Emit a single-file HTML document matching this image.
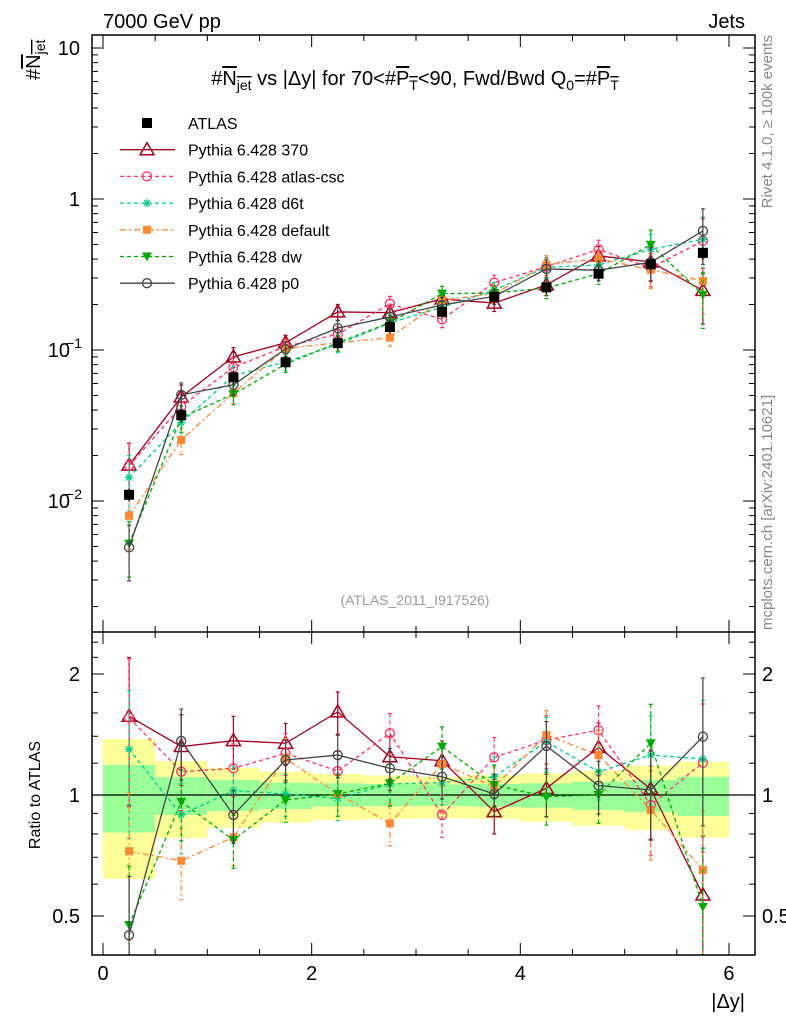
<!DOCTYPE html>
<html><head><meta charset="utf-8"><style>
body{margin:0;background:#fff}
svg{font-family:"Liberation Sans",sans-serif}
</style></head><body>
<svg id="c" width="786" height="1024" xmlns="http://www.w3.org/2000/svg"></svg>
<script>
const xCenters=[0.25,0.75,1.25,1.75,2.25,2.75,3.25,3.75,4.25,4.75,5.25,5.75];
const atlasVals=[0.011,0.037,0.066,0.083,0.111,0.142,0.179,0.225,0.26,0.32,0.37,0.44];
const yelUp=[1.378,1.215,1.169,1.143,1.128,1.119,1.11,1.121,1.132,1.149,1.183,1.21];
const yelLo=[0.618,0.782,0.829,0.853,0.866,0.872,0.875,0.872,0.858,0.839,0.818,0.783];
const grnUp=[1.188,1.108,1.09,1.073,1.069,1.065,1.063,1.065,1.069,1.079,1.09,1.11];
const grnLo=[0.807,0.892,0.912,0.923,0.935,0.939,0.94,0.935,0.93,0.918,0.907,0.887];
const errFrac=[0.4,0.2,0.15,0.12,0.12,0.12,0.12,0.12,0.15,0.15,0.25,0.4];
const r370=[1.57,1.32,1.365,1.345,1.61,1.245,1.217,0.909,1.039,1.314,1.035,0.564];
const rCsc=[1.557,1.143,1.165,1.27,1.147,1.424,0.892,1.241,1.37,1.45,0.944,1.203];
const rD6t=[1.3,0.892,1.025,1.006,0.981,1.065,1.073,1.11,1.357,1.143,1.257,1.229];
const rDef=[0.725,0.686,0.785,1.234,1.006,0.85,1.194,1.049,1.41,1.257,0.918,0.651];
const rDw=[0.475,0.962,0.773,0.972,1.006,1.069,1.319,1.059,0.99,1.0,1.345,0.527];
const rP0=[0.448,1.363,0.892,1.222,1.257,1.165,1.11,1.006,1.324,1.055,1.029,1.397];
const legendLabels=["ATLAS","Pythia 6.428 370","Pythia 6.428 atlas-csc","Pythia 6.428 d6t","Pythia 6.428 default","Pythia 6.428 dw","Pythia 6.428 p0"];

const svg=document.getElementById('c');
const NS="http://www.w3.org/2000/svg";
function mk(t,a,p){const e=document.createElementNS(NS,t);for(const k in a)e.setAttribute(k,a[k]);(p||svg).appendChild(e);return e;}
const L=92,R=755,T=35,M=632,B=955;
const X=v=>103+v*104.33;
const Y=v=>199-Math.log10(v)*151;
const YR=v=>795-Math.log2(v)*121;
const binW=0.5;

for(let i=0;i<xCenters.length;i++){
  const x0=X(xCenters[i]-binW/2),x1=X(xCenters[i]+binW/2);
  let r=mk('rect',{x:x0,y:YR(yelUp[i]),width:x1-x0,height:YR(yelLo[i])-YR(yelUp[i]),fill:'#ffff99'});
  
  
  r=mk('rect',{x:x0,y:YR(grnUp[i]),width:x1-x0,height:YR(grnLo[i])-YR(grnUp[i]),fill:'#99ff99'});
  
  
}
mk('line',{x1:L,x2:R,y1:YR(1),y2:YR(1),stroke:'#000','stroke-width':1.3});

const models=[
 {name:'pythia-370',r:r370,c:'#a00020',dash:'',m:'tri'},
 {name:'pythia-atlas-csc',r:rCsc,c:'#ff3366',dash:'4,3',m:'ocirc'},
 {name:'pythia-d6t',r:rD6t,c:'#00cc88',dash:'4,3',m:'star'},
 {name:'pythia-default',r:rDef,c:'#ff8833',dash:'6,3,2,3',m:'sq'},
 {name:'pythia-dw',r:rDw,c:'#00aa00',dash:'4,3',m:'tridown'},
 {name:'pythia-p0',r:rP0,c:'#444444',dash:'',m:'ocirc'}
];
function marker(type,x,y,c,g){
  if(type==='tri')return mk('path',{d:`M${x},${y-7}L${x+7},${y+5}L${x-7},${y+5}Z`,fill:'#fff','fill-opacity':0,stroke:c,'stroke-width':1.5},g);
  if(type==='ocirc')return mk('circle',{cx:x,cy:y,r:4.5,fill:'none',stroke:c,'stroke-width':1.3},g);
  if(type==='sq')return mk('rect',{x:x-4,y:y-4,width:8,height:8,fill:c},g);
  if(type==='bsq')return mk('rect',{x:x-5,y:y-5,width:10,height:10,fill:c},g);
  if(type==='tridown')return mk('path',{d:`M${x-5},${y-4}L${x+5},${y-4}L${x},${y+5}Z`,fill:c},g);
  if(type==='star')return mk('path',{d:`M${x-4},${y}H${x+4}M${x},${y-4}V${y+4}M${x-3},${y-3}L${x+3},${y+3}M${x-3},${y+3}L${x+3},${y-3}`,stroke:c,'stroke-width':1.3},g);
}
const clipM=mk('clipPath',{id:'cm'});mk('rect',{x:L,y:T,width:R-L,height:M-T},clipM);
const clipR=mk('clipPath',{id:'cr'});mk('rect',{x:L,y:M,width:R-L,height:B-M},clipR);

models.forEach(md=>{
  const gm=mk('g',{'clip-path':'url(#cm)'});
  
  
  const gr=mk('g',{'clip-path':'url(#cr)'});
  
  
  const vals=md.r.map((r,i)=>r*atlasVals[i]);
  mk('polyline',{points:xCenters.map((x,i)=>X(x)+','+Y(vals[i])).join(' '),fill:'none',stroke:md.c,'stroke-width':1.3,'stroke-dasharray':md.dash},gm);
  mk('polyline',{points:xCenters.map((x,i)=>X(x)+','+YR(md.r[i])).join(' '),fill:'none',stroke:md.c,'stroke-width':1.3,'stroke-dasharray':md.dash},gr);
  xCenters.forEach((x,i)=>{
    const e=errFrac[i],px=X(x);
    [[gm,Y,vals[i]],[gr,YR,md.r[i]]].forEach(([g,f,v])=>{
      const y1=f(v*(1+e)),y2=f(Math.max(v*(1-e),1e-4));
      mk('line',{x1:px,x2:px,y1:y1,y2:y2,stroke:md.c,'stroke-width':1.2,'stroke-dasharray':md.dash},g);
      mk('line',{x1:px-2,x2:px+2,y1:y1,y2:y1,stroke:md.c,'stroke-width':1.2},g);
      mk('line',{x1:px-2,x2:px+2,y1:y2,y2:y2,stroke:md.c,'stroke-width':1.2},g);
      marker(md.m,px,f(v),md.c,g);
    });
  });
});
const ga=mk('g',{'clip-path':'url(#cm)'});


xCenters.forEach((x,i)=>{
  const px=X(x),v=atlasVals[i];
  mk('line',{x1:px,x2:px,y1:Y(v*1.1),y2:Y(v*0.9),stroke:'#000','stroke-width':1.2},ga);
  marker('bsq',px,Y(v),'#000',ga);
});

mk('rect',{x:L,y:T,width:R-L,height:B-T,fill:'none',stroke:'#000','stroke-width':1.5});
mk('line',{x1:L,x2:R,y1:M,y2:M,stroke:'#000','stroke-width':1.5});

function txt(s,a,name){const t=mk('text',a);t.textContent=s;return t;}
for(let v=0;v<=6.001;v+=0.5){
  const maj=Math.abs(v-Math.round(v/2)*2)<1e-6;
  const len=maj?12:6;
  [M,B].forEach(yb=>mk('line',{x1:X(v),x2:X(v),y1:yb,y2:yb-len,stroke:'#000','stroke-width':1}));
  mk('line',{x1:X(v),x2:X(v),y1:T,y2:T+len,stroke:'#000','stroke-width':1});
  mk('line',{x1:X(v),x2:X(v),y1:M,y2:M+len,stroke:'#000','stroke-width':1});
  if(maj)txt(String(v),{x:X(v),y:980,'text-anchor':'middle','font-size':20},'x-tick-label');
}
for(let d=-3;d<=1;d++){
  for(let k=1;k<10;k++){
    const v=k*Math.pow(10,d);const y=Y(v);
    if(y<T||y>M)continue;
    const len=k===1?12:6;
    mk('line',{x1:L,x2:L+len,y1:y,y2:y,stroke:'#000'});
    mk('line',{x1:R,x2:R-len,y1:y,y2:y,stroke:'#000'});
  }
}
txt('10',{x:80,y:Y(10)+7,'text-anchor':'end','font-size':20},'y-tick-label');
txt('1',{x:80,y:Y(1)+7,'text-anchor':'end','font-size':20},'y-tick-label');
txt('10',{x:70,y:Y(0.1)+7,'text-anchor':'end','font-size':20},'y-tick-label');
txt('−1',{x:82,y:Y(0.1)-2,'text-anchor':'end','font-size':14},'y-tick-exponent');
txt('10',{x:70,y:Y(0.01)+7,'text-anchor':'end','font-size':20},'y-tick-label');
txt('−2',{x:82,y:Y(0.01)-2,'text-anchor':'end','font-size':14},'y-tick-exponent');
[0.5,0.6,0.7,0.8,0.9,1,1.2,1.4,1.6,1.8,2,2.2,2.4].forEach(v=>{
  const y=YR(v);const maj=(v===0.5||v===1||v===2);const len=maj?12:6;
  mk('line',{x1:L,x2:L+len,y1:y,y2:y,stroke:'#000'});
  mk('line',{x1:R,x2:R-len,y1:y,y2:y,stroke:'#000'});
});
[[2,'2'],[1,'1'],[0.5,'0.5']].forEach(([v,s])=>{
  txt(s,{x:80,y:YR(v)+7,'text-anchor':'end','font-size':20},'ratio-tick-label');
  txt(s,{x:762,y:YR(v)+7,'font-size':20},'ratio-tick-label');
});

txt('7000 GeV pp',{x:103,y:28,'font-size':20},'energy-label');
txt('Jets',{x:745,y:28,'text-anchor':'end','font-size':20},'process-label');
const tl=mk('text',{x:415,y:85,'text-anchor':'middle','font-size':20});

tl.innerHTML='#<tspan text-decoration="overline">N<tspan font-size="14" dy="5">jet</tspan></tspan><tspan dy="-5"> vs |Δy| for 70&lt;#</tspan><tspan text-decoration="overline">P<tspan font-size="14" dy="5">T</tspan></tspan><tspan dy="-5">&lt;90, Fwd/Bwd Q</tspan><tspan font-size="14" dy="5">0</tspan><tspan dy="-5">=#</tspan><tspan text-decoration="overline">P<tspan font-size="14" dy="5">T</tspan></tspan>';
const yl=mk('text',{transform:'translate(40,80) rotate(-90)','font-size':20});

yl.innerHTML='#<tspan text-decoration="overline">N<tspan font-size="14" dy="5">jet</tspan></tspan>';
txt('Ratio to ATLAS',{transform:'translate(40,795) rotate(-90)','text-anchor':'middle','font-size':16},'ratio-axis-title');
txt('|Δy|',{x:745,y:1008,'text-anchor':'end','font-size':20},'x-axis-title');
txt('(ATLAS_2011_I917526)',{x:415,y:605,'text-anchor':'middle','font-size':14,fill:'#999'},'analysis-id');
txt('Rivet 4.1.0, ≥ 100k events',{transform:'translate(772,35) rotate(-90)','text-anchor':'end','font-size':15,fill:'#888'},'rivet-label');
txt('mcplots.cern.ch [arXiv:2401.10621]',{transform:'translate(772,630) rotate(-90)','font-size':15,fill:'#888'},'mcplots-label');

const lg=mk('g',{});

const legM=[{c:'#000',m:'bsq',dash:null}].concat(models);
legendLabels.forEach((s,i)=>{
  const y=123+i*26.7;const md=legM[i];
  const g=mk('g',{},lg);
  
  if(i>0)mk('line',{x1:120,x2:175,y1:y,y2:y,stroke:md.c,'stroke-width':1.3,'stroke-dasharray':md.dash},g);
  marker(md.m,147,y,md.c,g);
  const tt=mk('text',{x:188,y:y+6,'font-size':16},g);tt.textContent=s;
});
</script>
</body></html>
